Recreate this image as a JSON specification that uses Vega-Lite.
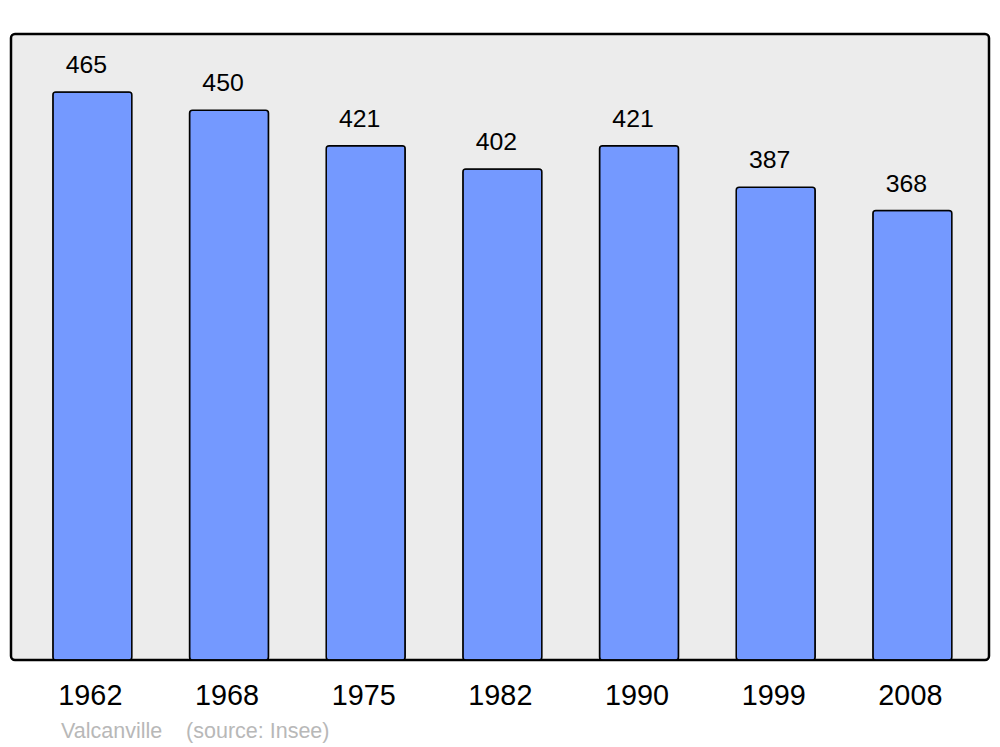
{
  "$schema": "https://vega.github.io/schema/vega-lite/v6.json",
  "width": 978,
  "height": 626,
  "autosize": {"type": "none"},
  "padding": {"left": 11, "top": 34, "right": 11, "bottom": 87},
  "background": "white",
  "config": {
    "view": {"fill": "#ececec", "stroke": "black", "strokeWidth": 2.5, "cornerRadius": 4},
    "font": "Liberation Sans"
  },
  "title": {
    "text": "Valcanville\u00a0\u00a0\u00a0\u00a0(source: Insee)",
    "orient": "bottom",
    "anchor": "start",
    "dx": 50,
    "offset": 11,
    "font": "Liberation Sans",
    "fontSize": 21.5,
    "fontWeight": "normal",
    "color": "#b8b8b8"
  },
  "data": {
    "values": [
      {"year": "1962", "population": 465},
      {"year": "1968", "population": 450},
      {"year": "1975", "population": 421},
      {"year": "1982", "population": 402},
      {"year": "1990", "population": 421},
      {"year": "1999", "population": 387},
      {"year": "2008", "population": 368}
    ]
  },
  "encoding": {
    "x": {
      "field": "year",
      "type": "ordinal",
      "sort": null,
      "scale": {"paddingInner": 0.422, "paddingOuter": 0.289, "align": 0.53},
      "axis": {
        "title": null,
        "labelAngle": 0,
        "labelOffset": -2,
        "domain": false,
        "ticks": false,
        "tickSize": 0,
        "labelPadding": 21,
        "labelFontSize": 28.8,
        "labelColor": "black",
        "labelFont": "Liberation Sans",
        "grid": false
      }
    },
    "y": {
      "field": "population",
      "type": "quantitative",
      "scale": {"domain": [0, 512.5], "nice": false, "zero": true},
      "axis": null
    }
  },
  "layer": [
    {
      "mark": {"type": "bar", "fill": "#7499ff", "stroke": "black", "strokeWidth": 1.5, "cornerRadius": 3}
    },
    {
      "mark": {"type": "text", "baseline": "alphabetic", "dy": -19, "dx": -6, "fontSize": 24.8, "color": "black", "font": "Liberation Sans"},
      "encoding": {"text": {"field": "population", "type": "quantitative"}}
    }
  ]
}
